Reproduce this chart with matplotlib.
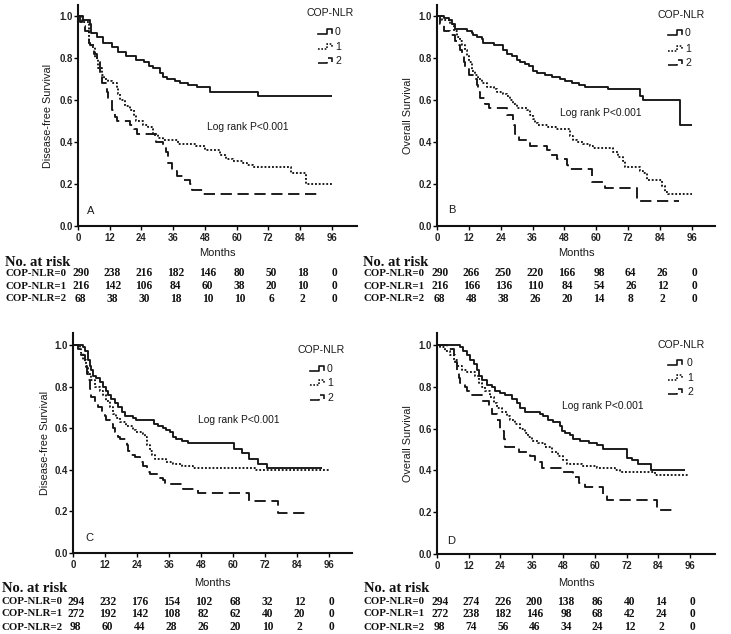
import matplotlib
matplotlib.use("Agg")
import matplotlib.pyplot as plt
from matplotlib.lines import Line2D
import matplotlib.transforms as mtrans

W, H = 731, 634
SANS = "Liberation Sans"
SERIF = "Liberation Serif"

months_ticks = [0, 12, 24, 36, 48, 60, 72, 84, 96]
groups = ["0", "1", "2"]
row_labels = ["COP-NLR=0", "COP-NLR=1", "COP-NLR=2"]

# ---------------- Panel A: Disease-free survival ----------------
A0_t = [0, 2, 4.5, 5, 7, 9.6, 13, 15, 18, 22, 25, 27, 28.5, 31, 32, 33.5, 36.6, 38.5, 41.7, 45, 50, 68, 96]
A0_s = [1.0, 0.98, 0.96, 0.92, 0.90, 0.87, 0.85, 0.83, 0.81, 0.79, 0.78, 0.76, 0.75, 0.73, 0.71, 0.70, 0.69, 0.68, 0.67, 0.66, 0.64, 0.62, 0.62]
A1_t = [0, 1.5, 4, 5, 6.4, 7.7, 9, 10, 11.5, 12.7, 14.6, 15.3, 16, 17.8, 19.6, 21, 22, 24.7, 26.6, 27.8,
        28.5, 30.4, 32, 38, 44.8, 48, 53.7, 56, 58.7, 62.5, 64, 66, 80.7, 86.4, 96]
A1_s = [1.0, 0.97, 0.87, 0.85, 0.80, 0.75, 0.72, 0.70, 0.69, 0.68, 0.66, 0.63, 0.60, 0.57, 0.55, 0.53, 0.50, 0.48, 0.47, 0.46,
        0.44, 0.42, 0.41, 0.39, 0.38, 0.36, 0.34, 0.32, 0.31, 0.30, 0.29, 0.28, 0.25, 0.20, 0.20]
A2_t = [0, 0.8, 2, 2.6, 4, 4.6, 5.9, 7, 8.3, 9, 10.8, 11.5, 12.7, 14, 14.6, 19.6, 21, 22.2, 29, 29.6,
        32.2, 33.4, 34, 35.4, 37.3, 39.8, 42.3, 43, 47.4, 92]
A2_s = [1.0, 0.97, 0.95, 0.93, 0.87, 0.86, 0.82, 0.78, 0.73, 0.68, 0.64, 0.60, 0.55, 0.52, 0.50, 0.48, 0.46, 0.44, 0.42, 0.40,
        0.38, 0.35, 0.30, 0.26, 0.24, 0.22, 0.20, 0.17, 0.15, 0.15]
A_risk0 = [290, 238, 216, 182, 146, 80, 50, 18, 0]
A_risk1 = [216, 142, 106, 84, 60, 38, 20, 10, 0]
A_risk2 = [68, 38, 30, 18, 10, 10, 6, 2, 0]

# ---------------- Panel B: Overall survival ----------------
B0_t = [0, 2.5, 4.4, 5.6, 6.9, 11.3, 13, 13.6, 15, 17, 17.5, 21.3, 25, 26.3, 28.2, 30, 31.3, 33, 34.5,
        36.3, 37.6, 40.7, 43.2, 46.4, 48.2, 50.8, 53.3, 55.8, 64.5, 76.4, 77.7, 91.7, 96]
B0_s = [1.0, 0.99, 0.98, 0.96, 0.94, 0.93, 0.92, 0.91, 0.90, 0.89, 0.87, 0.86, 0.84, 0.82, 0.81, 0.79, 0.78, 0.77, 0.76,
        0.74, 0.73, 0.72, 0.71, 0.70, 0.69, 0.68, 0.67, 0.66, 0.65, 0.62, 0.60, 0.48, 0.48]
B1_t = [0, 1.9, 5, 6.3, 7.5, 8.8, 9.4, 10.6, 11.3, 11.9, 13.2, 14.4, 15.6, 16.9, 18.8, 21.3, 22.5, 25, 26.3, 27.6,
        28.8, 30, 33.8, 35, 36.3, 36.9, 38.2, 41.8, 45, 50, 51.3, 52.6, 55, 57.6, 58.9, 66.4, 68.3, 70.1, 70.8, 76.4,
        77.7, 79.1, 84.6, 85.8, 87, 96]
B1_s = [1.0, 0.98, 0.96, 0.93, 0.90, 0.88, 0.86, 0.84, 0.81, 0.78, 0.74, 0.72, 0.70, 0.68, 0.66, 0.65, 0.64, 0.63, 0.62, 0.60,
        0.58, 0.56, 0.55, 0.53, 0.51, 0.49, 0.48, 0.47, 0.46, 0.43, 0.41, 0.40, 0.39, 0.38, 0.37, 0.35, 0.33, 0.31, 0.28, 0.26,
        0.25, 0.22, 0.19, 0.16, 0.15, 0.15]
B2_t = [0, 1.2, 2.5, 5, 6.9, 8.1, 8.8, 9.4, 10, 10.6, 11.9, 14.4, 15, 15.6, 16.3, 18.2, 19.4, 26.3, 28.8, 29.1,
        29.4, 30.7, 35, 41.4, 42.6, 45.1, 48.9, 49.5, 58.3, 63.3, 75.2, 91]
B2_s = [1.0, 0.96, 0.93, 0.91, 0.88, 0.86, 0.84, 0.81, 0.78, 0.75, 0.72, 0.70, 0.67, 0.64, 0.61, 0.58, 0.56, 0.53, 0.50, 0.48,
        0.44, 0.41, 0.38, 0.36, 0.34, 0.32, 0.29, 0.27, 0.21, 0.18, 0.12, 0.12]
B_risk0 = [290, 266, 250, 220, 166, 98, 64, 26, 0]
B_risk1 = [216, 166, 136, 110, 84, 54, 26, 12, 0]
B_risk2 = [68, 48, 38, 26, 20, 14, 8, 2, 0]

# ---------------- Panel C: Disease-free survival ----------------
C0_t = [0, 3.8, 4.4, 5.6, 6.3, 6.9, 7.5, 8.8, 10, 11.3, 12.5, 13.2, 14.4, 15.7, 16.9, 18.2, 19.4, 22.6, 23.8, 30.3,
        32, 33.8, 35, 36.3, 37.6, 38.8, 40.7, 43.2, 60.2, 63.3, 65.8, 69.5, 72.7, 93.4]
C0_s = [1.0, 0.99, 0.97, 0.93, 0.90, 0.88, 0.85, 0.84, 0.82, 0.80, 0.78, 0.76, 0.74, 0.72, 0.70, 0.68, 0.66, 0.65, 0.64, 0.62,
        0.61, 0.60, 0.59, 0.58, 0.56, 0.55, 0.54, 0.53, 0.50, 0.48, 0.45, 0.43, 0.41, 0.41]
C1_t = [0, 2.5, 3.1, 3.8, 5, 5.6, 6.9, 8.1, 10, 11.3, 12.5, 13.8, 15, 16.3, 17.5, 20, 22.6, 23.8, 26.3, 27,
        27.6, 28.8, 29.5, 30.7, 35, 37.6, 40.7, 45, 68.3, 96]
C1_s = [1.0, 0.98, 0.96, 0.93, 0.89, 0.86, 0.83, 0.80, 0.78, 0.76, 0.73, 0.70, 0.67, 0.65, 0.63, 0.61, 0.59, 0.58, 0.57, 0.56,
        0.52, 0.49, 0.47, 0.45, 0.44, 0.43, 0.42, 0.41, 0.40, 0.40]
C2_t = [0, 1.9, 3.1, 4.4, 5.3, 5.6, 6.3, 6.9, 8.1, 9.4, 10.7, 11.9, 12.5, 13.8, 15, 15.7, 16.9, 17.5, 20.3, 20.7,
        21.9, 23.2, 25, 26.3, 27.6, 28.8, 32.6, 33.8, 34.5, 41.4, 47, 65.8, 77, 89]
C2_s = [1.0, 0.98, 0.95, 0.90, 0.86, 0.83, 0.79, 0.75, 0.72, 0.70, 0.68, 0.66, 0.64, 0.62, 0.60, 0.58, 0.56, 0.55, 0.52, 0.49,
        0.47, 0.46, 0.44, 0.42, 0.39, 0.38, 0.36, 0.35, 0.33, 0.31, 0.29, 0.25, 0.19, 0.19]
C_risk0 = [294, 232, 176, 154, 102, 68, 32, 12, 0]
C_risk1 = [272, 192, 142, 108, 82, 62, 40, 20, 0]
C_risk2 = [98, 60, 44, 28, 26, 20, 10, 2, 0]

# ---------------- Panel D: Overall survival ----------------
D0_t = [0, 8.8, 10, 11.4, 12.6, 13.9, 15.2, 15.8, 17, 18.9, 20.8, 22, 24, 25.9, 28.4, 30.3, 31.6, 33.5, 39.2, 40.4,
        42.3, 44.2, 46.7, 47.3, 48.6, 50.5, 51.8, 54.3, 57.5, 60.6, 63.1, 72, 74, 76.4, 81.4, 94]
D0_s = [1.0, 0.99, 0.97, 0.95, 0.93, 0.91, 0.88, 0.85, 0.83, 0.81, 0.80, 0.78, 0.77, 0.76, 0.74, 0.72, 0.70, 0.68, 0.67, 0.66,
        0.64, 0.63, 0.61, 0.59, 0.58, 0.57, 0.55, 0.54, 0.53, 0.52, 0.50, 0.46, 0.45, 0.43, 0.40, 0.40]
D1_t = [0, 1.3, 3.2, 5, 6.3, 7.6, 9.5, 11.4, 14.5, 15.8, 17, 18.3, 20.2, 21.5, 22.7, 24.6, 26.5, 27.8, 29.7, 31.6,
        33.5, 34.7, 36, 38.5, 41, 43.6, 46.1, 48, 49.2, 54.9, 60.6, 67.5, 69.4, 82.7, 95.3]
D1_s = [1.0, 0.99, 0.97, 0.95, 0.93, 0.90, 0.88, 0.87, 0.85, 0.82, 0.80, 0.78, 0.75, 0.72, 0.70, 0.68, 0.66, 0.64, 0.62, 0.60,
        0.58, 0.56, 0.54, 0.53, 0.51, 0.49, 0.47, 0.45, 0.43, 0.42, 0.41, 0.40, 0.39, 0.38, 0.38]
D2_t = [0, 3.8, 6.3, 7, 7.6, 8.2, 8.8, 10.7, 11.4, 12.6, 17, 19.6, 20.8, 22.7, 23.9, 25.3, 25.9, 31, 35.4, 37.2,
        39.8, 48, 51.8, 53.7, 56.2, 63.1, 64.4, 83.3, 89]
D2_s = [1.0, 0.98, 0.95, 0.92, 0.88, 0.84, 0.82, 0.80, 0.78, 0.76, 0.73, 0.70, 0.67, 0.64, 0.59, 0.55, 0.51, 0.49, 0.47, 0.44,
        0.41, 0.39, 0.37, 0.34, 0.32, 0.28, 0.26, 0.21, 0.21]
D_risk0 = [294, 274, 226, 200, 138, 86, 40, 14, 0]
D_risk1 = [272, 238, 182, 146, 98, 68, 42, 24, 0]
D_risk2 = [98, 74, 56, 46, 34, 24, 12, 2, 0]

# ---------------- layout (pixels) ----------------
styles = [dict(ls="-", lw=1.35),
          dict(ls=(0, (1.0, 1.0)), lw=1.35),
          dict(ls=(0, (6, 3)), lw=1.35)]
LINE_COLOR = "#151515"

panels = [
    dict(letter="A", ylabel="Disease-free Survival",
         curves=[(A0_t, A0_s), (A1_t, A1_s), (A2_t, A2_s)], risk=[A_risk0, A_risk1, A_risk2],
         box=(78, 357, 5, 226), ymax=1.052, xmax=105.5, ylab_x=48,
         logrank=(64, 0.47), letter_pos=(3.5, 0.07),
         leg_title=(330, 13), leg_sx=318, leg_lx=335, leg_y=[32, 47, 61],
         months_y=253, risk_title_y=262, rows_y=[273, 286, 299], risk_x=5),
    dict(letter="B", ylabel="Overall Survival",
         curves=[(B0_t, B0_s), (B1_t, B1_s), (B2_t, B2_s)], risk=[B_risk0, B_risk1, B_risk2],
         box=(437, 715, 5, 226), ymax=1.052, xmax=104.7, ylab_x=408,
         logrank=(61.5, 0.54), letter_pos=(4.1, 0.075),
         leg_title=(681, 15), leg_sx=668, leg_lx=685, leg_y=[33, 49, 63],
         months_y=253, risk_title_y=262, rows_y=[273, 286, 299], risk_x=363),
    dict(letter="C", ylabel="Disease-free Survival",
         curves=[(C0_t, C0_s), (C1_t, C1_s), (C2_t, C2_s)], risk=[C_risk0, C_risk1, C_risk2],
         box=(73, 352, 333, 553), ymax=1.058, xmax=104.6, ylab_x=45,
         logrank=(62, 0.64), letter_pos=(4.5, 0.07),
         leg_title=(321, 350), leg_sx=310, leg_lx=327, leg_y=[369, 383, 398],
         months_y=583, risk_title_y=589, rows_y=[602, 614, 627], risk_x=2),
    dict(letter="D", ylabel="Overall Survival",
         curves=[(D0_t, D0_s), (D1_t, D1_s), (D2_t, D2_s)], risk=[D_risk0, D_risk1, D_risk2],
         box=(437, 715, 333, 554), ymax=1.057, xmax=105.5, ylab_x=408,
         logrank=(63, 0.71), letter_pos=(3.8, 0.06),
         leg_title=(681, 345), leg_sx=668, leg_lx=687, leg_y=[363, 378, 392],
         months_y=583, risk_title_y=589, rows_y=[602, 614, 627], risk_x=364),
]

fig = plt.figure(figsize=(W / 100, H / 100), dpi=100)
fig.patch.set_facecolor("white")


def fx(px):
    return px / W


def fy(py):
    return 1 - py / H


for p in panels:
    l, r, t, b = p["box"]
    ax = fig.add_axes([fx(l), fy(b), (r - l) / W, (b - t) / H])
    for (tt, ss), st in zip(p["curves"], styles):
        ax.step(tt, ss, where="post", color=LINE_COLOR, solid_capstyle="butt",
                dash_capstyle="butt", **st)
    ax.set_xlim(0, p["xmax"])
    ax.set_ylim(0, p["ymax"])
    ax.set_xticks(months_ticks)
    ax.set_xticklabels([str(m) for m in months_ticks])
    ax.set_yticks([0.0, 0.2, 0.4, 0.6, 0.8, 1.0])
    ax.set_yticklabels(["0.0", "0.2", "0.4", "0.6", "0.8", "1.0"])
    for s in ["top", "right"]:
        ax.spines[s].set_visible(False)
    for s in ["left", "bottom"]:
        ax.spines[s].set_linewidth(1.5)
        ax.spines[s].set_color("#111111")
    ax.tick_params(axis="x", direction="out", length=3, width=1.0, pad=2.0, labelsize=6.9)
    ax.tick_params(axis="y", direction="out", length=3, width=1.0, pad=0.8, labelsize=6.9)
    for lab in ax.get_xticklabels() + ax.get_yticklabels():
        lab.set_fontfamily(SANS)
        lab.set_fontweight("bold")
        lab.set_color("#222222")
    ax.patch.set_alpha(0)

    # y label
    fig.text(fx(p["ylab_x"]), fy((t + b) / 2), p["ylabel"], rotation=90, ha="center", va="center",
             fontsize=7.8, family=SANS, color="#1a1a1a")
    # log rank + panel letter
    ax.text(p["logrank"][0], p["logrank"][1], "Log rank P<0.001", ha="center", va="center",
            fontsize=7.4, family=SANS, color="#1a1a1a")
    ax.text(p["letter_pos"][0], p["letter_pos"][1], p["letter"], ha="left", va="center",
            fontsize=8, family=SANS, color="#1a1a1a")

    # legend
    fig.text(fx(p["leg_title"][0]), fy(p["leg_title"][1]), "COP-NLR", ha="center", va="center",
             fontsize=7.6, family=SANS, color="#1a1a1a")
    for g, ey, st in zip(groups, p["leg_y"], styles):
        sx = p["leg_sx"]
        xs = [sx, sx + 9, sx + 9, sx + 14, sx + 14]
        ys = [ey + 2, ey + 2, ey - 3, ey - 3, ey + 1]
        fig.add_artist(Line2D([fx(v) for v in xs], [fy(v) for v in ys], transform=fig.transFigure,
                              color=LINE_COLOR, lw=1.2, ls=st["ls"]))
        fig.text(fx(p["leg_lx"]), fy(ey), g, ha="left", va="center", fontsize=7.6,
                 family=SANS, color="#1a1a1a")

    # Months
    fig.text(fx((l + r) / 2), fy(p["months_y"]), "Months", ha="center", va="center",
             fontsize=8, family=SANS, color="#1a1a1a")

    # risk table
    fig.text(fx(p["risk_x"]), fy(p["risk_title_y"]), "No. at risk", ha="left", va="center",
             fontsize=10.5, family=SERIF, fontweight="bold", color="#111111")
    blend = mtrans.blended_transform_factory(ax.transData, fig.transFigure)
    for lab, vals, ry in zip(row_labels, p["risk"], p["rows_y"]):
        fig.text(fx(p["risk_x"]), fy(ry), lab, ha="left", va="center", fontsize=7.8,
                 family=SERIF, fontweight="bold", color="#111111")
        for m, v in zip(months_ticks, vals):
            ax.text(m + 1.0, fy(ry), str(v), transform=blend, ha="center", va="center",
                    fontsize=8.3, family=SERIF, fontweight="bold", color="#111111", clip_on=False)

fig.savefig("out.png", dpi=100, facecolor="white")
